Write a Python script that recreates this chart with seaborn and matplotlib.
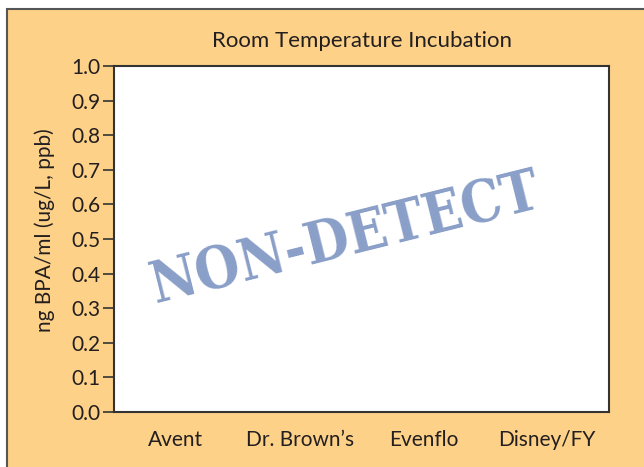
import matplotlib
matplotlib.use("Agg")
import matplotlib.pyplot as plt
import seaborn as sns
import pandas as pd
from matplotlib.patches import Rectangle

categories = ["Avent", "Dr. Brown\u2019s", "Evenflo", "Disney/FY"]
values = [0.0, 0.0, 0.0, 0.0]
yticks = [0.0, 0.1, 0.2, 0.3, 0.4, 0.5, 0.6, 0.7, 0.8, 0.9, 1.0]
title = "Room Temperature Incubation"
ylabel = "ng BPA/ml (ug/L, ppb)"
stamp = "NON-DETECT"

sns.set_theme(style="white")
plt.rcParams['font.family'] = ['Lato', 'DejaVu Sans']

W, H = 644, 467
fig = plt.figure(figsize=(W/100, H/100), dpi=100, facecolor="white")
peach = "#FDD187"
bg = Rectangle((7/W, -0.1), 1.2, 1.1 - 9/H, transform=fig.transFigure,
               facecolor=peach, edgecolor="#555555", linewidth=1.5, zorder=-10)
fig.patches.append(bg)

ax = fig.add_axes([114/W, 1 - 412/H, (609-114)/W, (412-66)/H])
ax.set_zorder(1)
df = pd.DataFrame({"brand": categories, "bpa": values})
sns.barplot(data=df, x="brand", y="bpa", ax=ax, color="#8A9FC8")
ax.set_facecolor("white")
ax.set_xlim(-0.5, 3.5)
ax.set_ylim(0, 1.0)
ax.set_yticks(yticks)
ax.set_yticklabels([f"{t:.1f}" for t in yticks], fontsize=15, color="#231F20")
ax.tick_params(axis="y", left=True, length=8, width=1.2, color="#333333", pad=2)
ax.tick_params(axis="x", bottom=False, labelsize=15, labelcolor="#231F20", pad=7)
for s in ax.spines.values():
    s.set_visible(True)
    s.set_color("#333333")
    s.set_linewidth(1.5)
ax.set_xlabel("")
ax.set_ylabel(ylabel, fontsize=15, color="#231F20")
ax.yaxis.set_label_coords(-0.12, 0.525)
ax.set_title(title, fontsize=16, color="#231F20", pad=14)

ax.text(0.467, 0.5, stamp, transform=ax.transAxes, rotation=14, ha="center", va="center",
        fontsize=41, fontweight="bold", family="DejaVu Serif", fontstretch="condensed",
        color="#8A9FC8", rotation_mode="anchor")

fig.savefig("out.png", dpi=100, facecolor=fig.get_facecolor())
